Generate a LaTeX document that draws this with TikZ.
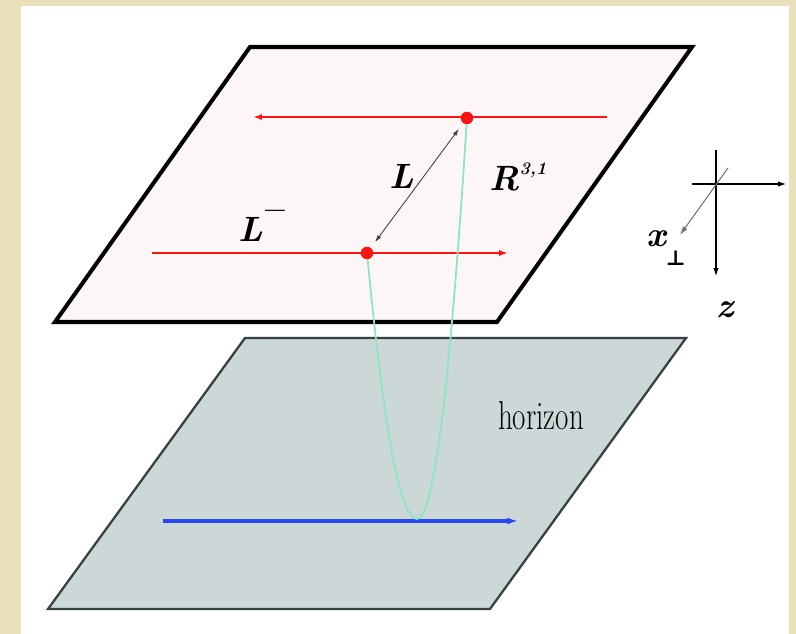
\documentclass[tikz,border=0pt]{standalone}
\usepackage{fontspec}
\newfontfamily\symfont{DejaVu Serif}
\usetikzlibrary{arrows.meta}

\definecolor{frame}{RGB}{234,224,187}
\definecolor{upplane}{RGB}{253,246,247}
\definecolor{lowplane}{RGB}{204,216,216}
\definecolor{lowedge}{RGB}{55,65,65}
\definecolor{geodcol}{RGB}{140,230,190}
\definecolor{bluecol}{RGB}{40,70,245}
\definecolor{redcol}{RGB}{255,20,20}

\tikzset{
  redline/.style={line width=1.3pt, redcol, -{Latex[length=5pt,width=3.5pt]}},
  blueline/.style={line width=1.8pt, bluecol, -{Latex[length=6pt,width=4pt]}},
  geod/.style={line width=1pt, geodcol},
  reddot/.style={circle, fill=redcol, inner sep=0pt, minimum size=0.25cm},
  axis/.style={line width=1pt, black, -{Latex[length=5pt,width=3pt]}},
  gap/.style={line width=0.5pt, black!75, >={Latex[length=4pt,width=2.5pt]}, <->},
  biglbl/.style={inner sep=0pt, font=\fontsize{20}{24}\selectfont\bfseries\itshape},
}

\begin{document}
\begin{tikzpicture}[x=0.02cm, y=-0.02cm]
\fill[frame] (0,0) rectangle (796,634);
\fill[white] (21,6) rectangle (789,634);
\useasboundingbox (0,0) rectangle (796,634);

% planes
\draw[line width=1.3pt, draw=lowedge, fill=lowplane] (245,338) -- (686,338) -- (490,609) -- (48,609) -- cycle;
\draw[line width=2.3pt, fill=upplane] (250,47) -- (692,47) -- (497,322) -- (55,322) -- cycle;

% points and ends
\coordinate (p) at (467,118);
\coordinate (q) at (367,253);
\coordinate (v) at (417,519);
\coordinate (a1) at (607,117);
\coordinate (a2) at (253,117);
\coordinate (b1) at (152,253);
\coordinate (b2) at (508,253);
\coordinate (c1) at (163,521);
\coordinate (c2) at (518,521);

% lines on the planes
\draw[redline] (a1) -- (a2);
\draw[redline] (b1) -- (b2);
\draw[blueline] (c1) -- (c2);

% curve between the two points
\draw[geod] (p) .. controls (450,385) and (434,519) .. (v)
  .. controls (400,519) and (384,430) .. (q);

\node[reddot] (P) at (p) {};
\node[reddot] (Q) at (q) {};
\draw[gap, shorten <=0.14cm, shorten >=0.14cm] (P) -- (Q);

% labels
\draw (402,176) node[biglbl] (Ltxt) {L};
\draw (262,226) node[biglbl] (Lminus) {L\kern1pt\raisebox{1.35ex}{\normalfont\bfseries --}};
\draw (518,177) node[biglbl] (Rtxt) {R\raisebox{1.05ex}{\fontsize{10}{12}\selectfont 3,1}};
\draw (541,416) node[inner sep=0pt] (hor) {\scalebox{0.72}[1]{\fontsize{23}{27}\selectfont horizon}};

% axes
\coordinate (o) at (716,184);
\coordinate (zt) at (716,150);
\coordinate (zb) at (716,277);
\coordinate (yl) at (692,184);
\coordinate (yr) at (787,184);
\coordinate (xt) at (728,168);
\coordinate (xb) at (680,235);
\draw[axis] (zt) -- (zb);
\draw[axis] (yl) -- (yr);
\draw[line width=0.6pt, black!55, -{Latex[length=5pt,width=3pt]}] (xt) -- (xb);
\draw (666,248) node[biglbl] (xlab) {x\raisebox{-1.2ex}{\fontsize{12}{14}\selectfont\upshape\symfont ⊥}};
\draw (725,310) node[biglbl] (zlab) {z};

\end{tikzpicture}
\end{document}
